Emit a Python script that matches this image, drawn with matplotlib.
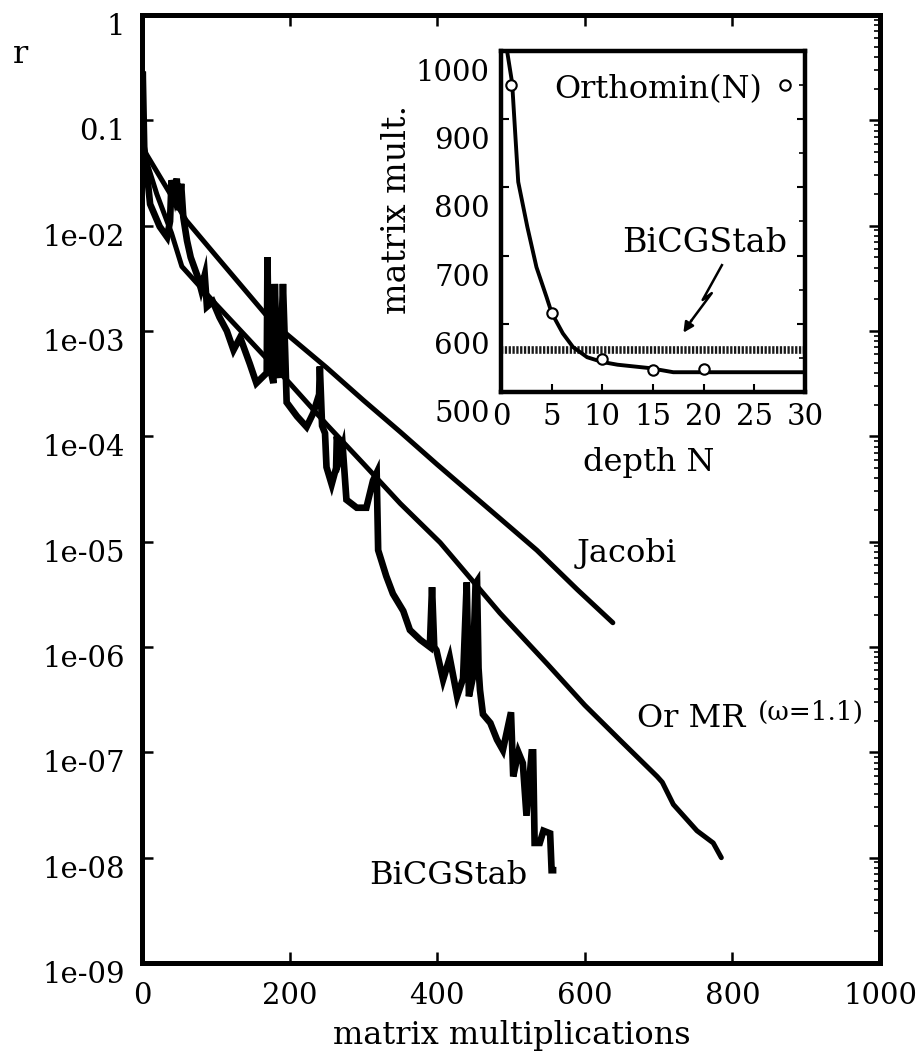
import matplotlib
matplotlib.use('Agg')
import matplotlib.pyplot as plt
from matplotlib.transforms import ScaledTranslation
from matplotlib.ticker import LogLocator, NullFormatter, NullLocator, MultipleLocator

# ---------------- data ----------------
jacobi_x = [0, 30, 60, 100, 167, 191, 250, 300, 350, 400, 450, 500, 535, 590, 638]
jacobi_r = [5.6e-2, 2.5e-2, 1.12e-2, 5.2e-3, 1.45e-3, 1.0e-3, 4.5e-4, 2.2e-4, 1.1e-4,
            5.4e-5, 2.7e-5, 1.35e-5, 8.3e-6, 3.5e-6, 1.7e-6]

ormr_x = [0, 20, 40, 54, 100, 150, 200, 250, 300, 350, 404, 485, 550, 600, 650, 698,
          705, 720, 752, 774, 785]
ormr_r = [5.6e-2, 2.0e-2, 8.5e-3, 4.1e-3, 1.8e-3, 7.6e-4, 3.2e-4, 1.3e-4, 5.5e-5, 2.3e-5,
          9.8e-6, 2.1e-6, 6.8e-7, 2.8e-7, 1.26e-7, 5.9e-8, 5.2e-8, 3.2e-8, 1.8e-8, 1.38e-8, 1.0e-8]

bicg_x = [0, 1, 3, 11, 24, 34, 38, 40, 44, 47, 50, 53, 56, 61, 66, 76, 80, 85, 88, 96,
          105, 115, 124, 133, 146, 155, 169, 170, 172, 178, 180, 183, 187, 191, 194, 196,
          210, 223, 232, 240, 241, 244, 248, 250, 257, 263, 264, 268, 272, 277, 291, 304,
          313, 318, 320, 331, 340, 354, 363, 377, 390, 393, 396, 399, 408, 417, 427, 435,
          440, 443, 448, 452, 454, 456, 458, 462, 472, 481, 489, 500, 503, 510, 516, 521,
          528, 530, 532, 539, 544, 553, 555, 557]
bicg_r = [5.2e-2, 2.9e-1, 5.6e-2, 1.6e-2, 9.8e-3, 7.8e-3, 1.1e-2, 2.7e-2, 2.0e-2, 2.8e-2,
          1.4e-2, 2.5e-2, 1.2e-2, 7.2e-3, 5.0e-3, 3.2e-3, 2.5e-3, 3.4e-3, 1.7e-3, 1.9e-3,
          1.35e-3, 1.0e-3, 6.6e-4, 8.7e-4, 4.9e-4, 3.2e-4, 4.0e-4, 5.0e-3, 5.0e-4, 3.2e-4,
          2.8e-3, 5.0e-4, 3.6e-4, 2.8e-3, 6.3e-4, 2.1e-4, 1.55e-4, 1.23e-4, 1.66e-4, 2.5e-4,
          4.6e-4, 1.26e-4, 1.07e-4, 5.1e-5, 3.5e-5, 5.0e-5, 1.0e-4, 6.3e-5, 7.9e-5, 2.5e-5,
          2.1e-5, 2.1e-5, 3.8e-5, 4.5e-5, 8.3e-6, 4.7e-6, 3.2e-6, 2.2e-6, 1.45e-6, 1.17e-6,
          1.0e-6, 3.7e-6, 1.0e-6, 9.3e-7, 4.9e-7, 7.9e-7, 3.4e-7, 5.0e-7, 4.1e-6, 3.4e-7,
          5.0e-7, 4.0e-6, 4.2e-6, 6.3e-7, 3.9e-7, 2.3e-7, 1.9e-7, 1.32e-7, 1.05e-7, 2.4e-7,
          5.9e-8, 1.0e-7, 7.9e-8, 2.5e-8, 1.0e-7, 1.0e-7, 1.38e-8, 1.38e-8, 1.8e-8, 1.7e-8,
          7.6e-9, 7.6e-9]

x_ticks = [0, 200, 400, 600, 800, 1000]
x_tick_labels = ['0', '200', '400', '600', '800', '1000']
y_ticks = [1e-9, 1e-8, 1e-7, 1e-6, 1e-5, 1e-4, 1e-3, 1e-2, 1e-1, 1]
y_tick_labels = ['1e-09', '1e-08', '1e-07', '1e-06', '1e-05', '1e-04', '1e-03', '1e-02', '0.1', '1']

# inset data
orth_depth = [1, 5, 10, 15, 20]
orth_mults = [950, 616, 549, 532, 533]
orth_curve_depth = [0.6, 1.1, 1.4, 1.7, 2.6, 3.5, 4.5, 5.0, 6.1, 7.1, 8.5, 10, 11.5, 14.7, 17, 30]
orth_curve_mults = [1000, 953, 880, 808, 742, 683, 639, 616, 586, 566, 551, 544, 540, 535, 529, 529]
bicg_mults = 562
inset_x_ticks = [0, 5, 10, 15, 20, 25, 30]
inset_y_ticks = [500, 600, 700, 800, 900, 1000]

# ---------------- figure ----------------
plt.rcParams['font.family'] = ['DejaVu Serif']
plt.rcParams['mathtext.fontset'] = 'dejavuserif'
TICK_FS = 21
TEXT_FS = 23

fig = plt.figure(figsize=(9.22, 10.58), dpi=100)
ax = fig.add_axes([142/922, 1-963/1058, (880-142)/922, (963-15)/1058])
ax.set_yscale('log')
ax.set_xlim(0, 1000)
ax.set_ylim(1e-9, 1)

ax.plot(jacobi_x, jacobi_r, color='black', lw=3.6, solid_joinstyle='round',
        solid_capstyle='round')
ax.plot(ormr_x, ormr_r, color='black', lw=3.6, solid_joinstyle='round',
        solid_capstyle='round')
ax.plot(bicg_x, bicg_r, color='black', lw=4.8, solid_joinstyle='miter')

for s in ax.spines.values():
    s.set_linewidth(3.6)

ax.set_xticks(x_ticks)
ax.set_xticklabels(x_tick_labels)
ax.set_yticks(y_ticks)
ax.set_yticklabels(y_tick_labels)
ax.xaxis.set_minor_locator(NullLocator())
ax.yaxis.set_minor_locator(LogLocator(base=10, subs=range(2, 10), numticks=20))
ax.yaxis.set_minor_formatter(NullFormatter())
ax.tick_params(which='major', direction='in', length=8, width=1.8, top=True, right=True,
               labelsize=TICK_FS)
ax.tick_params(axis='x', which='major', pad=14)
ax.tick_params(axis='y', which='major', pad=12)
ax.tick_params(which='minor', direction='in', left=False, right=True, length=4, width=1.2)
for lbl in ax.get_yticklabels():
    lbl.set_transform(lbl.get_transform() + ScaledTranslation(0, -0.09, fig.dpi_scale_trans))

ax.text(-0.165, 0.958, 'r', transform=ax.transAxes, fontsize=TEXT_FS, ha='center', va='center')
ax.text(0.501, -0.076, 'matrix multiplications', transform=ax.transAxes, fontsize=TEXT_FS,
        ha='center', va='center')

ax.text(657, 7.8e-6, 'Jacobi', fontsize=TEXT_FS, ha='center', va='center')
ax.text(671, 2.1e-7, 'Or MR', fontsize=TEXT_FS, ha='left', va='center')
ax.text(835, 2.4e-7, '(ω=1.1)', fontsize=19, ha='left', va='center')
ax.text(415, 6.8e-9, 'BiCGStab', fontsize=TEXT_FS, ha='center', va='center')

# ---------------- inset ----------------
ax2 = fig.add_axes([501/922, 1-392/1058, (805-501)/922, (392-51)/1058])
ax2.set_xlim(0, 30)
ax2.set_ylim(500, 1000)
for s in ax2.spines.values():
    s.set_linewidth(3.2)

ax2.axhline(bicg_mults, color='#1a1a1a', lw=5.5, linestyle=(0, (0.3, 0.2)))
ax2.plot(orth_curve_depth, orth_curve_mults, color='black', lw=2.8)
ax2.plot(orth_depth, orth_mults, 'o', ms=7.5, mfc='white', mec='black', mew=1.5)
ax2.plot([28], [950], 'o', ms=7.5, mfc='white', mec='black', mew=1.5)
ax2.text(15.5, 943, 'Orthomin(N)', fontsize=TEXT_FS, ha='center', va='center')
ax2.text(20.1, 718, 'BiCGStab', fontsize=24, ha='center', va='center')
ax2.plot([21.8, 19.9, 20.8, 18.8], [686, 635, 645, 605], color='black', lw=1.8)
ax2.annotate('', xy=(18.0, 587), xytext=(18.8, 605),
             arrowprops=dict(arrowstyle='-|>', color='black', lw=1.8, mutation_scale=15,
                             shrinkA=0, shrinkB=0))

ax2.set_xticks(inset_x_ticks)
ax2.set_xticklabels([str(v) for v in inset_x_ticks])
ax2.set_yticks(inset_y_ticks)
ax2.set_yticklabels([str(v) for v in inset_y_ticks])
ax2.yaxis.set_minor_locator(MultipleLocator(50))
ax2.tick_params(which='major', direction='in', length=6, width=1.5, top=False, right=True,
                labelsize=TICK_FS)
ax2.tick_params(axis='x', pad=8)
ax2.tick_params(axis='y', pad=8)
ax2.tick_params(which='minor', direction='in', left=False, right=True, length=4, width=1.2)
for lbl in ax2.get_yticklabels():
    lbl.set_transform(lbl.get_transform() + ScaledTranslation(0, -0.19, fig.dpi_scale_trans))

ax2.text(-0.342, 0.534, 'matrix mult.', transform=ax2.transAxes, fontsize=24,
         rotation=90, ha='center', va='center')
ax2.text(0.487, -0.208, 'depth N', transform=ax2.transAxes, fontsize=TEXT_FS,
         ha='center', va='center')

fig.savefig('out.png', dpi=100)
